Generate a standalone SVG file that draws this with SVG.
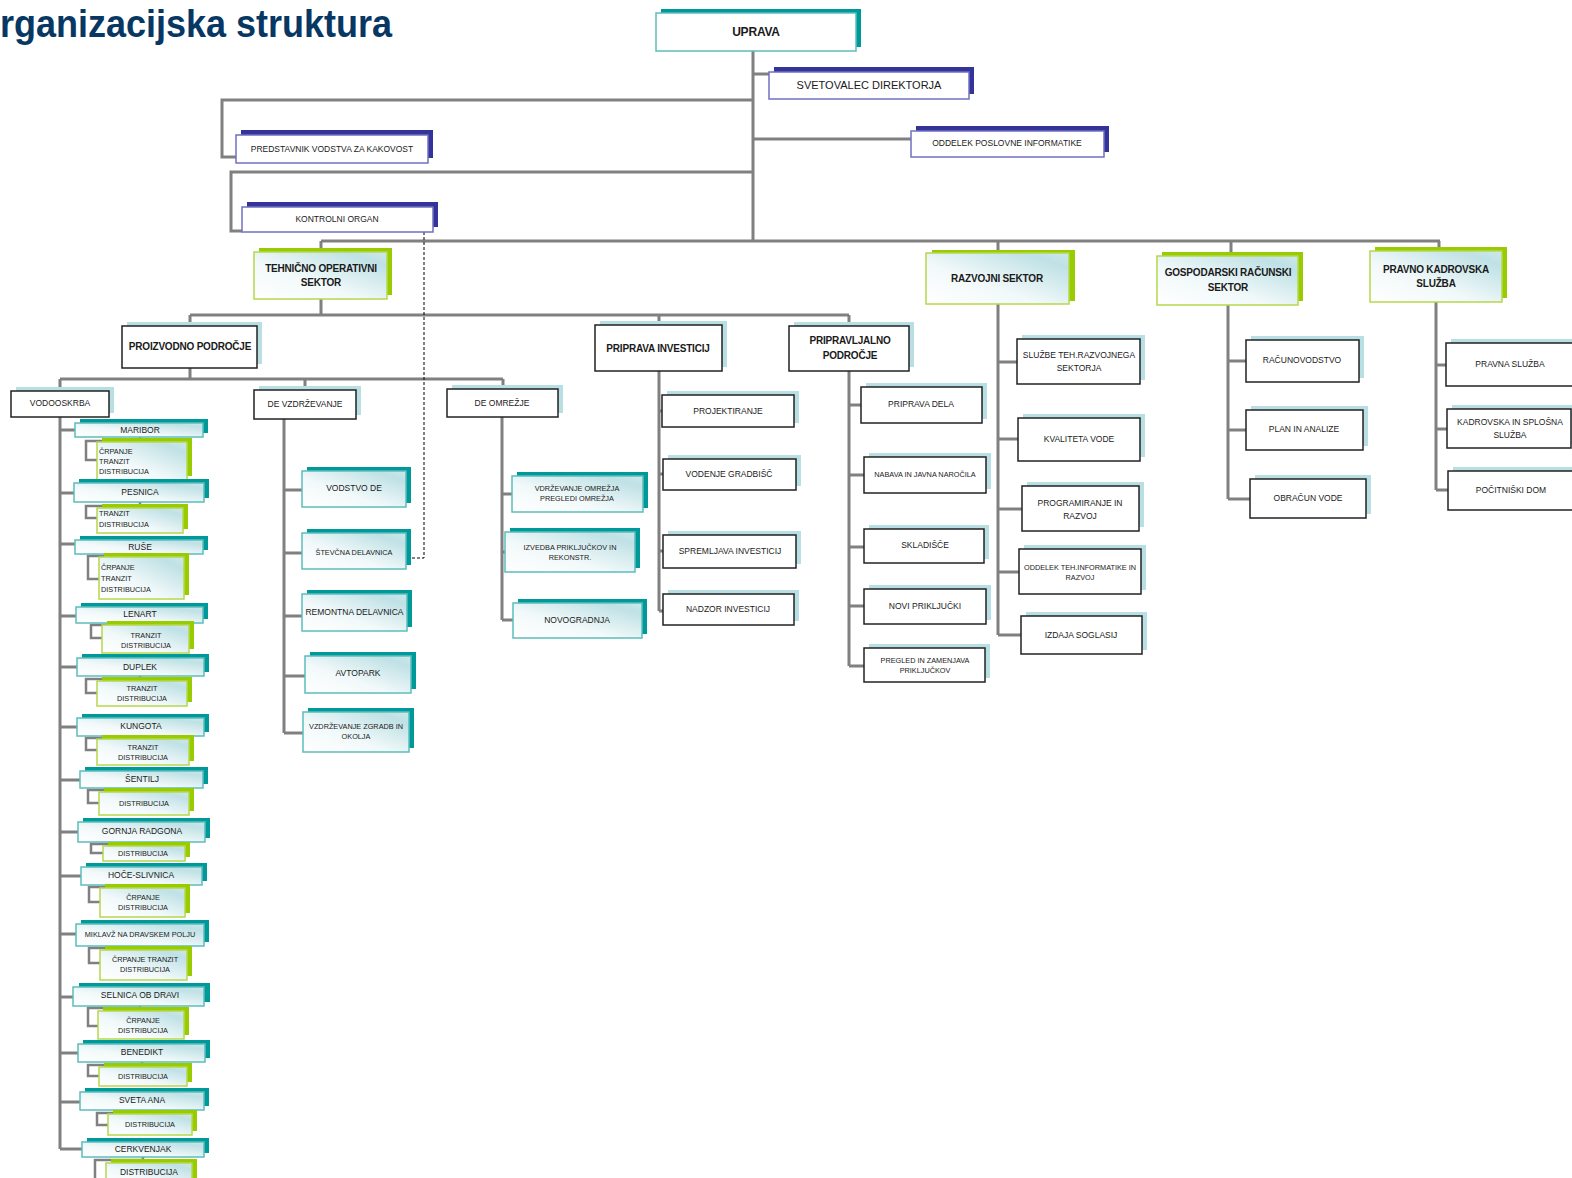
<svg xmlns="http://www.w3.org/2000/svg" width="1572" height="1178" viewBox="0 0 1572 1178">
<defs>
<linearGradient id="g" x1="0" y1="1" x2="1" y2="0">
<stop offset="0" stop-color="#ffffff"/>
<stop offset="0.4" stop-color="#f2f9fa"/>
<stop offset="0.85" stop-color="#bfe1e5"/>
<stop offset="1" stop-color="#cde8eb"/>
</linearGradient>
<style>
.t{font-family:"Liberation Sans",Arial,sans-serif;fill:#1a1a1a;text-anchor:middle;font-size:8.5px}
.l{text-anchor:start}
.b{font-weight:bold;font-size:10px;letter-spacing:-0.2px}
.s{font-size:7.3px}
.ln{stroke:#808080;stroke-width:3;fill:none}
.br{stroke:#808080;stroke-width:2.5;fill:none}
.ds{stroke:#000;stroke-width:1;stroke-dasharray:3 2;fill:none}
.st{fill:#009999}
.bt{fill:url(#g);stroke:#5cbdbd;stroke-width:1.5}
.sn{fill:#333399}
.bn{fill:#fff;stroke:#7070c4;stroke-width:1.5}
.sg{fill:#99cc00}
.bg{fill:url(#g);stroke:#b5d84c;stroke-width:1.5}
.sl{fill:#b8dfe3}
.bp{fill:#fff;stroke:#222;stroke-width:1.5}
</style>
</defs>
<rect width="1572" height="1178" fill="#fff"/>
<text x="0" y="37" textLength="392" lengthAdjust="spacingAndGlyphs" style="font-family:'Liberation Sans',Arial,sans-serif;font-weight:bold;font-size:38px;fill:#073763">rganizacijska struktura</text>

<g id="connectors">
<path class="ln" d="M753,51V241M753,74H769M753,100H222V157H236M753,139H911M753,172H231V231H242"/>
<path class="ln" d="M321,241H1440M321,241V252M998,241V253M1231,241V256M1439,241V251"/>
<path class="ln" d="M321,299V315M190,315H849M190,315V326M659,315V325M849,315V326"/>
<path class="ln" d="M190,368V379M60,379H503M60,379V391M305,379V390M503,379V389"/>
<path class="ln" d="M60,417V1149M60,430H76M60,493H74M60,544H75M60,616H76M60,667H77M60,727H77M60,780H80M60,832H78M60,876H81M60,934H76M60,997H73M60,1053H78M60,1102H80M60,1149H82"/>
<path class="ln" d="M284,419V733M284,490H302M284,553H302M284,616H302M284,676H305M284,733H303"/>
<path class="ln" d="M502,417V620M502,494H512M502,552H505M502,620H513"/>
<path class="ln" d="M659,371V611M659,411H662M659,474H663M659,551H663M659,611H663"/>
<path class="ln" d="M849,371V666M849,405H861M849,475H864M849,547H864M849,606H864M849,666H864"/>
<path class="ln" d="M998,304V635M998,362H1017M998,439H1018M998,509H1022M998,572H1019M998,635H1021"/>
<path class="ln" d="M1228,305V499M1228,361H1246M1228,430H1246M1228,499H1250"/>
<path class="ln" d="M1436,302V490M1436,365H1446M1436,429H1447M1436,490H1448"/>
<path class="br" d="M140,437V441H86V460H97M140,502V506H86V518H97M140,554V556H88V579H99M140,623V625H91V638H102M140,676V679H86V693H97M140,736V738H86V750H97M142,788V790H88V803H99M142,842V844H91V853H103M141,885V887H89V902H100M140,946V948H89V963H100M140,1006V1008H88V1026H98M142,1062V1065H88V1076H99M142,1110V1113H97V1125H108M143,1157V1160H95V1178"/>
<path class="ds" d="M424,232V558H411"/>
</g>

<g id="n-uprava"><rect class="st" x="661" y="9" width="200" height="38"/><rect class="bt" x="656" y="13" width="200" height="38" fill="#fff" style="fill:#fff"/><text class="t b" x="756" y="36" style="font-size:12px">UPRAVA</text></g>
<g id="n-svetovalec"><rect class="sn" x="774" y="67" width="200" height="27"/><rect class="bn" x="769" y="72" width="200" height="27"/><text class="t" x="869" y="89" style="font-size:11px">SVETOVALEC DIREKTORJA</text></g>
<g id="n-predstavnik"><rect class="sn" x="241" y="130" width="192" height="28"/><rect class="bn" x="236" y="135" width="192" height="28"/><text class="t" x="332" y="152">PREDSTAVNIK VODSTVA ZA KAKOVOST</text></g>
<g id="n-oddelek-pi"><rect class="sn" x="916" y="126" width="193" height="26"/><rect class="bn" x="911" y="131" width="193" height="26"/><text class="t" x="1007" y="146">ODDELEK POSLOVNE INFORMATIKE</text></g>
<g id="n-kontrolni"><rect class="sn" x="247" y="202" width="191" height="25"/><rect class="bn" x="242" y="207" width="191" height="25"/><text class="t" x="337" y="222">KONTROLNI ORGAN</text></g>

<g id="n-tehnicno"><rect class="sg" x="259" y="248" width="133" height="47"/><rect class="bg" x="254" y="252" width="133" height="47"/><text class="t b" x="321" y="271.5">TEHNIČNO OPERATIVNI</text><text class="t b" x="321" y="285.5">SEKTOR</text></g>
<g id="n-razvojni"><rect class="sg" x="932" y="250" width="143" height="51"/><rect class="bg" x="926" y="253" width="143" height="51"/><text class="t b" x="997" y="281.5">RAZVOJNI SEKTOR</text></g>
<g id="n-gospodarski"><rect class="sg" x="1162" y="252" width="141" height="49"/><rect class="bg" x="1157" y="256" width="141" height="49"/><text class="t b" x="1228" y="276">GOSPODARSKI RAČUNSKI</text><text class="t b" x="1228" y="290.5">SEKTOR</text></g>
<g id="n-pravno"><rect class="sg" x="1375" y="247" width="132" height="51"/><rect class="bg" x="1370" y="251" width="132" height="51"/><text class="t b" x="1436" y="272.5">PRAVNO KADROVSKA</text><text class="t b" x="1436" y="286.5">SLUŽBA</text></g>

<g id="n-proizvodno"><rect class="sl" x="127" y="322" width="135" height="42"/><rect class="bp" x="122" y="326" width="135" height="42"/><text class="t b" x="190" y="350">PROIZVODNO PODROČJE</text></g>
<g id="n-priprava-inv"><rect class="sl" x="600" y="321" width="127" height="46"/><rect class="bp" x="595" y="325" width="127" height="46"/><text class="t b" x="658" y="351.5">PRIPRAVA INVESTICIJ</text></g>
<g id="n-pripravljalno"><rect class="sl" x="794" y="322" width="120" height="45"/><rect class="bp" x="789" y="326" width="120" height="45"/><text class="t b" x="850" y="343.5">PRIPRAVLJALNO</text><text class="t b" x="850" y="358.5">PODROČJE</text></g>

<g id="n-vodooskrba"><rect class="sl" x="16" y="387" width="98" height="26"/><rect class="bp" x="11" y="391" width="98" height="26"/><text class="t" x="60" y="406">VODOOSKRBA</text></g>
<g id="n-de-vzdrzevanje"><rect class="sl" x="259" y="386" width="102" height="29"/><rect class="bp" x="254" y="390" width="102" height="29"/><text class="t" x="305" y="407">DE VZDRŽEVANJE</text></g>
<g id="n-de-omrezje"><rect class="sl" x="452" y="385" width="111" height="28"/><rect class="bp" x="447" y="389" width="111" height="28"/><text class="t" x="502" y="406">DE OMREŽJE</text></g>

<g id="n-vodstvo-de"><rect class="st" x="307" y="467" width="104" height="36"/><rect class="bt" x="302" y="471" width="104" height="36"/><text class="t" x="354" y="491">VODSTVO DE</text></g>
<g id="n-stevcna"><rect class="st" x="307" y="529" width="104" height="36"/><rect class="bt" x="302" y="533" width="104" height="36"/><text class="t s" x="354" y="554.5">ŠTEVČNA DELAVNICA</text></g>
<g id="n-remontna"><rect class="st" x="307" y="590" width="105" height="37"/><rect class="bt" x="302" y="594" width="105" height="37"/><text class="t" x="354.5" y="615">REMONTNA DELAVNICA</text></g>
<g id="n-avtopark"><rect class="st" x="310" y="652" width="106" height="37"/><rect class="bt" x="305" y="656" width="106" height="37"/><text class="t" x="358" y="676">AVTOPARK</text></g>
<g id="n-zgradbe"><rect class="st" x="308" y="708" width="106" height="40"/><rect class="bt" x="303" y="712" width="106" height="40"/><text class="t s" x="356" y="728.5">VZDRŽEVANJE ZGRADB IN</text><text class="t s" x="356" y="738.5">OKOLJA</text></g>

<g id="n-vzdr-omrezja"><rect class="st" x="517" y="472" width="131" height="36"/><rect class="bt" x="512" y="476" width="131" height="36"/><text class="t s" x="577" y="490.5">VDRŽEVANJE OMREŽJA</text><text class="t s" x="577" y="500.5">PREGLEDI OMREŽJA</text></g>
<g id="n-izvedba"><rect class="st" x="510" y="528" width="130" height="40"/><rect class="bt" x="505" y="532" width="130" height="40"/><text class="t s" x="570" y="549.5">IZVEDBA PRIKLJUČKOV IN</text><text class="t s" x="570" y="559.5">REKONSTR.</text></g>
<g id="n-novogradnja"><rect class="st" x="518" y="599" width="129" height="35"/><rect class="bt" x="513" y="603" width="129" height="35"/><text class="t" x="577" y="623">NOVOGRADNJA</text></g>

<g id="n-projektiranje"><rect class="sl" x="667" y="391" width="132" height="32"/><rect class="bp" x="662" y="395" width="132" height="32"/><text class="t" x="728" y="414">PROJEKTIRANJE</text></g>
<g id="n-vodenje"><rect class="sl" x="668" y="455" width="133" height="31"/><rect class="bp" x="663" y="459" width="133" height="31"/><text class="t" x="729" y="477">VODENJE GRADBIŠČ</text></g>
<g id="n-spremljava"><rect class="sl" x="668" y="531" width="133" height="33"/><rect class="bp" x="663" y="535" width="133" height="33"/><text class="t" x="730" y="554">SPREMLJAVA INVESTICIJ</text></g>
<g id="n-nadzor"><rect class="sl" x="668" y="590" width="131" height="31"/><rect class="bp" x="663" y="594" width="131" height="31"/><text class="t" x="728" y="612">NADZOR INVESTICIJ</text></g>

<g id="n-priprava-dela"><rect class="sl" x="866" y="383" width="121" height="36"/><rect class="bp" x="861" y="387" width="121" height="36"/><text class="t" x="921" y="407">PRIPRAVA DELA</text></g>
<g id="n-nabava"><rect class="sl" x="869" y="453" width="122" height="36"/><rect class="bp" x="864" y="457" width="122" height="36"/><text class="t s" x="925" y="476.5">NABAVA IN JAVNA NAROČILA</text></g>
<g id="n-skladisce"><rect class="sl" x="869" y="525" width="120" height="34"/><rect class="bp" x="864" y="529" width="120" height="34"/><text class="t" x="925" y="548">SKLADIŠČE</text></g>
<g id="n-novi-prik"><rect class="sl" x="869" y="585" width="122" height="35"/><rect class="bp" x="864" y="589" width="122" height="35"/><text class="t" x="925" y="609">NOVI PRIKLJUČKI</text></g>
<g id="n-pregled"><rect class="sl" x="869" y="644" width="121" height="34"/><rect class="bp" x="864" y="648" width="121" height="34"/><text class="t s" x="925" y="662.5">PREGLED IN ZAMENJAVA</text><text class="t s" x="925" y="672.5">PRIKLJUČKOV</text></g>

<g id="n-sluzbe-teh"><rect class="sl" x="1022" y="335" width="123" height="45"/><rect class="bp" x="1017" y="339" width="123" height="45"/><text class="t" x="1079" y="358">SLUŽBE TEH.RAZVOJNEGA</text><text class="t" x="1079" y="371">SEKTORJA</text></g>
<g id="n-kvaliteta"><rect class="sl" x="1023" y="414" width="122" height="43"/><rect class="bp" x="1018" y="418" width="122" height="43"/><text class="t" x="1079" y="442">KVALITETA VODE</text></g>
<g id="n-programiranje"><rect class="sl" x="1027" y="482" width="117" height="45"/><rect class="bp" x="1022" y="486" width="117" height="45"/><text class="t" x="1080" y="506">PROGRAMIRANJE IN</text><text class="t" x="1080" y="519">RAZVOJ</text></g>
<g id="n-oddelek-ti"><rect class="sl" x="1024" y="545" width="122" height="45"/><rect class="bp" x="1019" y="549" width="122" height="45"/><text class="t s" x="1080" y="569.5">ODDELEK TEH.INFORMATIKE IN</text><text class="t s" x="1080" y="579.5">RAZVOJ</text></g>
<g id="n-izdaja"><rect class="sl" x="1026" y="612" width="121" height="38"/><rect class="bp" x="1021" y="616" width="121" height="38"/><text class="t" x="1081" y="638">IZDAJA SOGLASIJ</text></g>

<g id="n-racunovodstvo"><rect class="sl" x="1251" y="336" width="113" height="42"/><rect class="bp" x="1246" y="340" width="113" height="42"/><text class="t" x="1302" y="363">RAČUNOVODSTVO</text></g>
<g id="n-plan"><rect class="sl" x="1251" y="406" width="117" height="40"/><rect class="bp" x="1246" y="410" width="117" height="40"/><text class="t" x="1304" y="432">PLAN IN ANALIZE</text></g>
<g id="n-obracun"><rect class="sl" x="1255" y="475" width="116" height="39"/><rect class="bp" x="1250" y="479" width="116" height="39"/><text class="t" x="1308" y="501">OBRAČUN VODE</text></g>

<g id="n-pravna"><rect class="sl" x="1451" y="339" width="130" height="43"/><rect class="bp" x="1446" y="343" width="130" height="43"/><text class="t" x="1510" y="367">PRAVNA SLUŽBA</text></g>
<g id="n-kadrovska"><rect class="sl" x="1452" y="405" width="124" height="39"/><rect class="bp" x="1447" y="409" width="124" height="39"/><text class="t" x="1510" y="425">KADROVSKA IN SPLOŠNA</text><text class="t" x="1510" y="438">SLUŽBA</text></g>
<g id="n-pocitniski"><rect class="sl" x="1453" y="467" width="130" height="39"/><rect class="bp" x="1448" y="471" width="130" height="39"/><text class="t" x="1511" y="493">POČITNIŠKI DOM</text></g>

<g id="n-maribor"><rect class="st" x="80" y="419" width="128" height="14"/><rect class="bt" x="75" y="423" width="128" height="14"/><text class="t" x="140" y="432.5">MARIBOR</text></g>
<g id="n-maribor-s"><rect class="sg" x="102" y="438" width="90" height="38"/><rect class="bg" x="97" y="442" width="90" height="38"/><text class="t s l" x="99" y="453.5">ČRPANJE</text><text class="t s l" x="99" y="463.5">TRANZIT</text><text class="t s l" x="99" y="473.5">DISTRIBUCIJA</text></g>
<g id="n-pesnica"><rect class="st" x="79" y="479" width="130" height="19"/><rect class="bt" x="74" y="483" width="130" height="19"/><text class="t" x="140" y="495">PESNICA</text></g>
<g id="n-pesnica-s"><rect class="sg" x="102" y="504" width="86" height="25"/><rect class="bg" x="97" y="508" width="86" height="25"/><text class="t s l" x="99" y="515.5">TRANZIT</text><text class="t s l" x="99" y="526.5">DISTRIBUCIJA</text></g>
<g id="n-ruse"><rect class="st" x="80" y="536" width="128" height="14"/><rect class="bt" x="75" y="540" width="128" height="14"/><text class="t" x="140" y="549.5">RUŠE</text></g>
<g id="n-ruse-s"><rect class="sg" x="104" y="553" width="85" height="42"/><rect class="bg" x="99" y="557" width="85" height="42"/><text class="t s l" x="101" y="569.5">ČRPANJE</text><text class="t s l" x="101" y="580.5">TRANZIT</text><text class="t s l" x="101" y="591.5">DISTRIBUCIJA</text></g>
<g id="n-lenart"><rect class="st" x="81" y="603" width="127" height="16"/><rect class="bt" x="76" y="607" width="127" height="16"/><text class="t" x="140" y="617">LENART</text></g>
<g id="n-lenart-s"><rect class="sg" x="107" y="621" width="87" height="28"/><rect class="bg" x="102" y="625" width="87" height="28"/><text class="t s" x="146" y="637.5">TRANZIT</text><text class="t s" x="146" y="648">DISTRIBUCIJA</text></g>
<g id="n-duplek"><rect class="st" x="82" y="654" width="127" height="18"/><rect class="bt" x="77" y="658" width="127" height="18"/><text class="t" x="140" y="670">DUPLEK</text></g>
<g id="n-duplek-s"><rect class="sg" x="102" y="677" width="90" height="25"/><rect class="bg" x="97" y="681" width="90" height="25"/><text class="t s" x="142" y="690.5">TRANZIT</text><text class="t s" x="142" y="700.5">DISTRIBUCIJA</text></g>
<g id="n-kungota"><rect class="st" x="82" y="714" width="127" height="18"/><rect class="bt" x="77" y="718" width="127" height="18"/><text class="t" x="141" y="729">KUNGOTA</text></g>
<g id="n-kungota-s"><rect class="sg" x="102" y="735" width="92" height="26"/><rect class="bg" x="97" y="739" width="92" height="26"/><text class="t s" x="143" y="749.5">TRANZIT</text><text class="t s" x="143" y="759.5">DISTRIBUCIJA</text></g>
<g id="n-sentilj"><rect class="st" x="85" y="767" width="123" height="17"/><rect class="bt" x="80" y="771" width="123" height="17"/><text class="t" x="142" y="782">ŠENTILJ</text></g>
<g id="n-sentilj-s"><rect class="sg" x="104" y="788" width="90" height="23"/><rect class="bg" x="99" y="792" width="90" height="23"/><text class="t s" x="144" y="805.5">DISTRIBUCIJA</text></g>
<g id="n-gornja"><rect class="st" x="83" y="818" width="127" height="20"/><rect class="bt" x="78" y="822" width="127" height="20"/><text class="t" x="142" y="834">GORNJA RADGONA</text></g>
<g id="n-gornja-s"><rect class="sg" x="108" y="842" width="82" height="15"/><rect class="bg" x="103" y="846" width="82" height="15"/><text class="t s" x="143" y="856">DISTRIBUCIJA</text></g>
<g id="n-hoce"><rect class="st" x="86" y="863" width="121" height="18"/><rect class="bt" x="81" y="867" width="121" height="18"/><text class="t" x="141" y="878">HOČE-SLIVNICA</text></g>
<g id="n-hoce-s"><rect class="sg" x="105" y="884" width="85" height="29"/><rect class="bg" x="100" y="888" width="85" height="29"/><text class="t s" x="143" y="899.5">ČRPANJE</text><text class="t s" x="143" y="909.5">DISTRIBUCIJA</text></g>
<g id="n-miklavz"><rect class="st" x="81" y="920" width="128" height="22"/><rect class="bt" x="76" y="924" width="128" height="22"/><text class="t s" x="140" y="936.5">MIKLAVŽ NA DRAVSKEM POLJU</text></g>
<g id="n-miklavz-s"><rect class="sg" x="105" y="946" width="87" height="30"/><rect class="bg" x="100" y="950" width="87" height="30"/><text class="t s" x="145" y="961.5">ČRPANJE TRANZIT</text><text class="t s" x="145" y="971.5">DISTRIBUCIJA</text></g>
<g id="n-selnica"><rect class="st" x="79" y="983" width="131" height="19"/><rect class="bt" x="73" y="987" width="131" height="19"/><text class="t" x="140" y="998">SELNICA OB DRAVI</text></g>
<g id="n-selnica-s"><rect class="sg" x="103" y="1007" width="86" height="28"/><rect class="bg" x="98" y="1011" width="86" height="28"/><text class="t s" x="143" y="1022.5">ČRPANJE</text><text class="t s" x="143" y="1032.5">DISTRIBUCIJA</text></g>
<g id="n-benedikt"><rect class="st" x="83" y="1040" width="127" height="18"/><rect class="bt" x="78" y="1044" width="127" height="18"/><text class="t" x="142" y="1055">BENEDIKT</text></g>
<g id="n-benedikt-s"><rect class="sg" x="104" y="1063" width="88" height="19"/><rect class="bg" x="99" y="1067" width="88" height="19"/><text class="t s" x="143" y="1078.5">DISTRIBUCIJA</text></g>
<g id="n-sveta-ana"><rect class="st" x="85" y="1088" width="124" height="18"/><rect class="bt" x="80" y="1092" width="124" height="18"/><text class="t" x="142" y="1103">SVETA ANA</text></g>
<g id="n-sveta-ana-s"><rect class="sg" x="113" y="1110" width="84" height="21"/><rect class="bg" x="108" y="1114" width="84" height="21"/><text class="t s" x="150" y="1126.5">DISTRIBUCIJA</text></g>
<g id="n-cerkvenjak"><rect class="st" x="87" y="1138" width="122" height="15"/><rect class="bt" x="82" y="1142" width="122" height="15"/><text class="t" x="143" y="1152">CERKVENJAK</text></g>
<g id="n-cerkvenjak-s"><rect class="sg" x="111" y="1159" width="86" height="22"/><rect class="bg" x="106" y="1163" width="86" height="22"/><text class="t" x="149" y="1175">DISTRIBUCIJA</text></g>
</svg>
